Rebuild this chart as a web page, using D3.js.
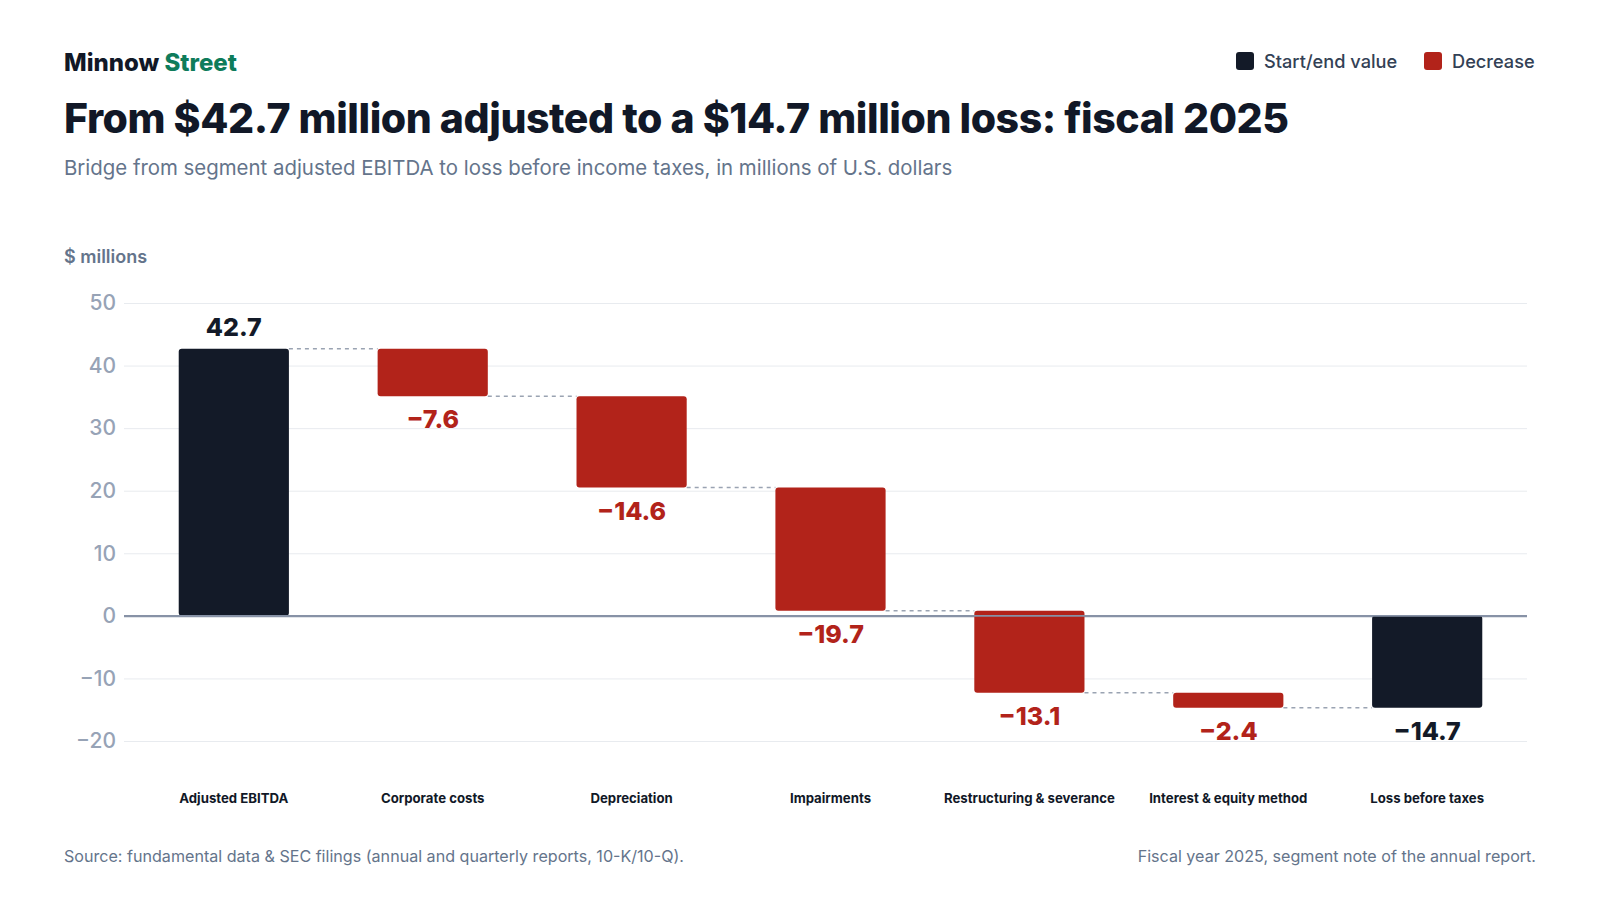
<!DOCTYPE html>
<html>
<head>
<meta charset="utf-8">
<script src="https://cdn.jsdelivr.net/npm/d3@7"></script>
<style>
  html, body { margin: 0; padding: 0; background: #fff; }
  body { font-family: Inter, "Noto Sans", sans-serif; }
</style>
</head>
<body>
<div id="chart"></div>
<script>
// data
const categories = ["Adjusted EBITDA", "Corporate costs", "Depreciation", "Impairments",
  "Restructuring & severance", "Interest & equity method", "Loss before taxes"];
const changes = [42.7, -7.6, -14.6, -19.7, -13.1, -2.4, -14.7];
const kinds = ["total", "decrease", "decrease", "decrease", "decrease", "decrease", "total"];
const yTicks = [-20, -10, 0, 10, 20, 30, 40, 50];

const W = 1600, H = 900;
const plot = { left: 124, right: 1527, top: 303, bottom: 741 };

const colors = { total: "#131a28", decrease: "#b2231a" };

const svg = d3.select("#chart").append("svg")
  .attr("width", W).attr("height", H)
  .style("font-family", "Inter, 'Noto Sans', sans-serif");

// build waterfall steps
let running = 0;
const steps = categories.map((c, i) => {
  let y0, y1;
  if (kinds[i] === "total") {
    y0 = 0; y1 = changes[i];
    running = changes[i];
  } else {
    y0 = running; y1 = running + changes[i];
    running = y1;
  }
  return { cat: c, value: changes[i], kind: kinds[i], y0, y1, end: running };
});

const x = d3.scaleBand().domain(categories).range([plot.left + 5, plot.right + 5])
  .paddingInner(0.446).paddingOuter(0.25);
const y = d3.scaleLinear().domain([-20, 50]).range([plot.bottom, plot.top]);

// header
const brand = svg.append("text").attr("x", 64).attr("y", 71)
  .attr("font-size", 24).attr("font-weight", 800).attr("letter-spacing", 0);
brand.append("tspan").attr("fill", "#111827").text("Minnow ");
brand.append("tspan").attr("fill", "#0e7c5b").text("Street");

svg.append("text").attr("x", 64).attr("y", 133)
  .attr("font-size", 41).attr("font-weight", 800).attr("letter-spacing", -0.45)
  .attr("fill", "#111827")
  .text("From $42.7 million adjusted to a $14.7 million loss: fiscal 2025");

svg.append("text").attr("x", 64).attr("y", 175)
  .attr("font-size", 20.4).attr("fill", "#64748b")
  .text("Bridge from segment adjusted EBITDA to loss before income taxes, in millions of U.S. dollars");

// legend
const legend = svg.append("g");
[["Start/end value", colors.total, 1236], ["Decrease", colors.decrease, 1424]].forEach(([t, c, lx]) => {
  legend.append("rect").attr("x", lx).attr("y", 52).attr("width", 18).attr("height", 18)
    .attr("rx", 3).attr("fill", c);
  legend.append("text").attr("x", lx + 28).attr("y", 61).attr("dominant-baseline", "central")
    .attr("font-size", 18.2).attr("font-weight", 500).attr("fill", "#334155").text(t);
});

svg.append("text").attr("x", 64).attr("y", 263)
  .attr("font-size", 18).attr("font-weight", 600).attr("fill", "#64748b")
  .text("$ millions");

// grid + y axis
const fmtTick = d => d < 0 ? "\u2212" + Math.abs(d) : String(d);
const yAxis = svg.append("g").attr("transform", `translate(${plot.left},0)`)
  .call(d3.axisLeft(y).tickValues(yTicks).tickSize(-(plot.right - plot.left)).tickFormat(fmtTick));
yAxis.select(".domain").remove();
yAxis.selectAll(".tick line")
  .attr("stroke", d => d === 0 ? "#8792a6" : "#e8ebef")
  .attr("stroke-width", d => d === 0 ? 1.6 : 1);
yAxis.selectAll(".tick text")
  .attr("x", -8).attr("font-size", 21).attr("font-weight", 500)
  .attr("font-family", "Inter, 'Noto Sans', sans-serif")
  .attr("fill", "#97a3b6");

// connectors
const conn = steps.slice(0, -1).map((s, i) => ({ x1: x(s.cat) + x.bandwidth(), x2: x(categories[i + 1]), v: s.end }));
svg.append("g").selectAll("line").data(conn).join("line")
  .attr("x1", d => d.x1).attr("x2", d => d.x2)
  .attr("y1", d => y(d.v)).attr("y2", d => y(d.v))
  .attr("stroke", "#9aa3b2").attr("stroke-width", 1.5).attr("stroke-dasharray", "4,4");

// bars
svg.append("g").selectAll("rect").data(steps).join("rect")
  .attr("x", d => x(d.cat))
  .attr("width", x.bandwidth())
  .attr("y", d => y(Math.max(d.y0, d.y1)))
  .attr("height", d => Math.abs(y(d.y0) - y(d.y1)))
  .attr("rx", 3)
  .attr("fill", d => colors[d.kind]);

// zero line above bars
svg.append("line").attr("x1", plot.left).attr("x2", plot.right).attr("y1", y(0)).attr("y2", y(0))
  .attr("stroke", "#8792a6").attr("stroke-width", 1.6);

// value labels
const fmtVal = v => (v < 0 ? "\u2212" : "") + Math.abs(v).toFixed(1);
svg.append("g").selectAll("text").data(steps).join("text")
  .attr("x", d => x(d.cat) + x.bandwidth() / 2)
  .attr("y", d => d.value >= 0 ? y(Math.max(d.y0, d.y1)) - 13 : y(Math.min(d.y0, d.y1)) + 32)
  .attr("text-anchor", "middle")
  .attr("font-size", 25).attr("font-weight", 800)
  .attr("fill", d => colors[d.kind])
  .text(d => fmtVal(d.value));

// category labels
svg.append("g").selectAll("text").data(categories).join("text")
  .attr("x", d => x(d) + x.bandwidth() / 2)
  .attr("y", 803)
  .attr("text-anchor", "middle")
  .attr("font-size", 13.2).attr("font-weight", 700).attr("fill", "#111827")
  .text(d => d);

// footer
svg.append("text").attr("x", 64).attr("y", 862)
  .attr("font-size", 16.1).attr("fill", "#64748b")
  .text("Source: fundamental data & SEC filings (annual and quarterly reports, 10-K/10-Q).");
svg.append("text").attr("x", 1536).attr("y", 862).attr("text-anchor", "end")
  .attr("font-size", 16.1).attr("fill", "#64748b")
  .text("Fiscal year 2025, segment note of the annual report.");
</script>
</body>
</html>
